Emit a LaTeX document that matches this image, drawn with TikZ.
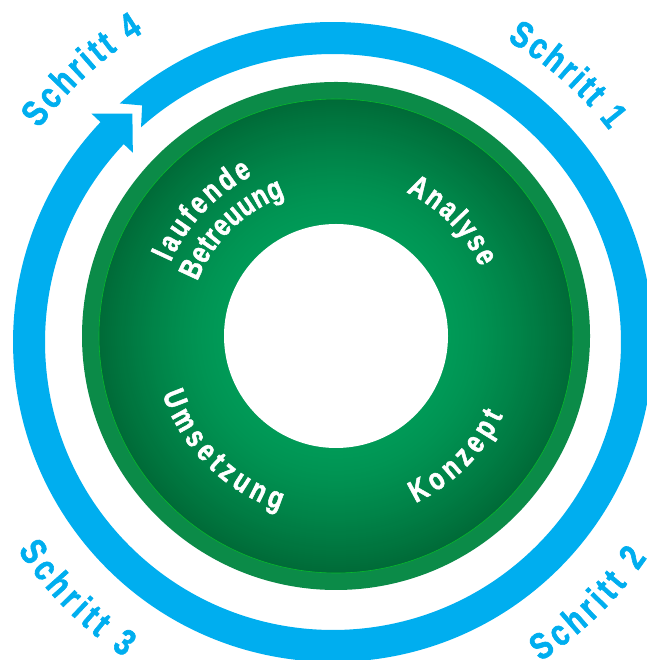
\documentclass[tikz,border=0pt]{standalone}
\usepackage{fontspec}
\newfontfamily\stepfont[FakeStretch=0.78, FakeBold=1.6]{Liberation Sans}
\usetikzlibrary{calc,decorations.text}

\definecolor{stepblue}{HTML}{00AEEF}
\definecolor{bandgreen}{HTML}{0B8B48}
\definecolor{darkgreen}{HTML}{006B38}
\definecolor{lightgreen}{HTML}{009A57}
\newcommand{\schrittfont}{\stepfont\bfseries\fontsize{37}{40}\selectfont}
\newcommand{\phasefont}{\stepfont\bfseries\fontsize{31}{34}\selectfont}

\begin{document}
\begin{tikzpicture}[x=1pt, y=1pt,
    schritt/.style={decorate, decoration={text along path, text align=fit to path, text color=stepblue, text={|\schrittfont|#1}}},
    phase/.style={decorate, decoration={text along path, text align=fit to path, text color=white, text={|\phasefont|#1}}}]
  \useasboundingbox (0,0) rectangle (646,660);
  \coordinate (B) at (333,318);
  \coordinate (G) at (336,324);

  % 緑の円
  \fill[bandgreen] (G) circle[radius=254];
  \foreach \r in {237,235,...,113} {
    \pgfmathsetmacro\mix{100*((\r-112)/125)^1.3}
    \fill[darkgreen!\mix!lightgreen] (G) circle[radius=\r];
  }
  \draw[green!40!bandgreen, line width=0.6pt] (G) circle[radius=237];
  \fill[white] (G) circle[radius=112];

  % 青い矢印
  \fill[stepblue] ($(B)+(131.8:320)$) arc[start angle=131.8, end angle=-223.4, radius=320]
    -- ($(B)+(-223.4:332.5)$) -- ($(B)+(131.3:304)$) -- ($(B)+(-223.4:275.5)$)
    -- ($(B)+(-223.4:288)$) arc[start angle=-223.4, end angle=131.8, radius=288]
    -- ($(B)+(128.9:304)$) -- cycle;

  % Schritte
  \path[schritt=Schritt 1] ($(B)+(60:348)$) arc[start angle=60, end angle=37.5, radius=348];
  \path[schritt=Schritt 2] ($(B)+(-57:381)$) arc[start angle=-57, end angle=-34.5, radius=381];
  \path[schritt=Schritt 3] ($(B)+(-146.5:378)$) arc[start angle=-146.5, end angle=-123.5, radius=378];
  \path[schritt=Schritt 4] ($(B)+(144:363)$) arc[start angle=144, end angle=121.5, radius=363];

  % Phasen
  \path[phase=Analyse] ($(G)+(64:160)$) arc[start angle=64, end angle=25.5, radius=160];
  \path[phase=Konzept] ($(G)+(-64.5:185)$) arc[start angle=-64.5, end angle=-25.5, radius=185];
  \path[phase=Umsetzung] ($(G)+(-161.5:183)$) arc[start angle=-161.5, end angle=-108, radius=183];
  \path[phase=laufende] ($(G)+(156:181)$) arc[start angle=156, end angle=117.5, radius=181];
  \path[phase=Betreuung] ($(G)+(158.5:149)$) arc[start angle=158.5, end angle=110, radius=149];
\end{tikzpicture}
\end{document}
